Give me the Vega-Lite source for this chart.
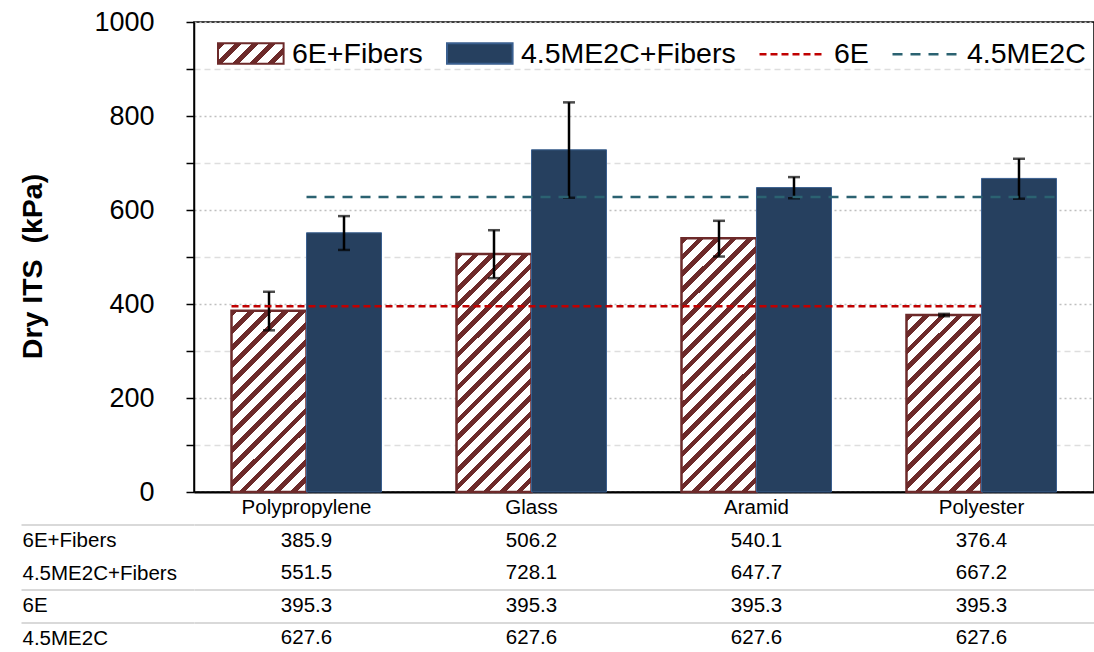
{
  "$schema": "https://vega.github.io/schema/vega-lite/v6.json",
  "background": "white",
  "padding": {"left": 18, "top": 7, "right": 3, "bottom": 0},
  "bounds": "flush",
  "spacing": 32.5,
  "config": {"font": "Liberation Sans", "view": {"stroke": null}},
  "datasets": {
    "bars": [
      {"fiber": "Polypropylene", "series": "6E+Fibers", "value": 385.9, "lo": 344, "hi": 426},
      {"fiber": "Polypropylene", "series": "4.5ME2C+Fibers", "value": 551.5, "lo": 515, "hi": 587},
      {"fiber": "Glass", "series": "6E+Fibers", "value": 506.2, "lo": 455, "hi": 557},
      {"fiber": "Glass", "series": "4.5ME2C+Fibers", "value": 728.1, "lo": 626, "hi": 829},
      {"fiber": "Aramid", "series": "6E+Fibers", "value": 540.1, "lo": 501, "hi": 577},
      {"fiber": "Aramid", "series": "4.5ME2C+Fibers", "value": 647.7, "lo": 625, "hi": 670},
      {"fiber": "Polyester", "series": "6E+Fibers", "value": 376.4, "lo": 374, "hi": 379},
      {"fiber": "Polyester", "series": "4.5ME2C+Fibers", "value": 667.2, "lo": 624, "hi": 709}
    ],
    "lines": [
      {"series": "6E", "from": "Polypropylene", "to": "Polyester", "value": 395.3},
      {"series": "4.5ME2C", "from": "Polypropylene", "to": "Polyester", "value": 627.6}
    ],
    "table": [
      {"row": "6E+Fibers", "fiber": "Polypropylene", "value": 385.9},
      {"row": "6E+Fibers", "fiber": "Glass", "value": 506.2},
      {"row": "6E+Fibers", "fiber": "Aramid", "value": 540.1},
      {"row": "6E+Fibers", "fiber": "Polyester", "value": 376.4},
      {"row": "4.5ME2C+Fibers", "fiber": "Polypropylene", "value": 551.5},
      {"row": "4.5ME2C+Fibers", "fiber": "Glass", "value": 728.1},
      {"row": "4.5ME2C+Fibers", "fiber": "Aramid", "value": 647.7},
      {"row": "4.5ME2C+Fibers", "fiber": "Polyester", "value": 667.2},
      {"row": "6E", "fiber": "Polypropylene", "value": 395.3},
      {"row": "6E", "fiber": "Glass", "value": 395.3},
      {"row": "6E", "fiber": "Aramid", "value": 395.3},
      {"row": "6E", "fiber": "Polyester", "value": 395.3},
      {"row": "4.5ME2C", "fiber": "Polypropylene", "value": 627.6},
      {"row": "4.5ME2C", "fiber": "Glass", "value": 627.6},
      {"row": "4.5ME2C", "fiber": "Aramid", "value": 627.6},
      {"row": "4.5ME2C", "fiber": "Polyester", "value": 627.6}
    ]
  },
  "vconcat": [
    {
      "width": 900,
      "height": 470,
      "view": {"stroke": "black", "strokeWidth": 1.5},
      "layer": [
        {
          "data": {"name": "bars"},
          "mark": {"type": "bar"},
          "encoding": {
            "x": {
              "field": "fiber", "type": "nominal",
              "scale": {"type": "band", "domain": ["Polypropylene", "Glass", "Aramid", "Polyester"], "paddingInner": 0.3333, "paddingOuter": 0.1667},
              "axis": {"title": null, "ticks": false, "domain": true, "domainColor": "black", "domainWidth": 2, "labelAngle": 0, "labelFontSize": 20.5, "labelColor": "black", "labelPadding": 5}
            },
            "xOffset": {
              "field": "series", "type": "nominal",
              "scale": {"domain": ["6E+Fibers", "4.5ME2C+Fibers"], "paddingInner": 0, "paddingOuter": 0}
            },
            "y": {
              "field": "value", "type": "quantitative",
              "scale": {"domain": [0, 1000], "nice": false},
              "axis": {
                "values": [0, 100, 200, 300, 400, 500, 600, 700, 800, 900, 1000],
                "format": "d",
                "labelExpr": "datum.value % 200 === 0 ? datum.label : ''",
                "labelOverlap": false,
                "title": "Dry ITS\u00a0 (kPa)", "titleFontSize": 28.5, "titleFontWeight": "bold", "titleColor": "black", "titlePadding": 46, "titleY": 244,
                "labelFontSize": 27, "labelColor": "black", "labelPadding": 32,
                "tickSize": 8, "tickColor": "black", "tickWidth": 1.5,
                "domainColor": "black", "domainWidth": 1.5,
                "grid": true, "gridWidth": 1.5,
                "gridColor": {"condition": {"test": "datum.value % 200 === 0", "value": "#bfbfbf"}, "value": "#dedede"},
                "gridDash": {"condition": {"test": "datum.value % 200 === 0", "value": [2, 3]}, "value": [6, 4]}
              }
            },
            "stroke": {
              "field": "series", "type": "nominal",
              "scale": {"domain": ["6E+Fibers", "4.5ME2C+Fibers"], "range": ["#6d2a2a", "#3a5f8f"]},
              "legend": {
                "orient": "none", "legendX": 23, "legendY": 10, "direction": "horizontal",
                "title": null, "padding": 0, "symbolSize": 1681, "symbolType": "M-1,-0.5H2.2V0.5H-1Z", "labelOffset": 32, "columnPadding": 20,
                "labelFontSize": 28.5, "labelColor": "black", "labelLimit": 0, "symbolStrokeWidth": 2
              }
            },
            "strokeWidth": {"condition": {"test": "datum.series === '6E+Fibers'", "value": 2.5}, "value": 1},
            "fill": {
              "field": "series", "type": "nominal",
              "scale": {"domain": ["6E+Fibers", "4.5ME2C+Fibers"], "range": [
                {"expr": "{gradient: 'linear', x1: 0, y1: 0, x2: 1.1957, y2: 0.3737, stops: [{offset: 0, color: '#6d2a2a'}, {offset: 0.08, color: '#6d2a2a'}, {offset: 0.08, color: '#ffffff'}, {offset: 0.2, color: '#ffffff'}, {offset: 0.2, color: '#6d2a2a'}, {offset: 0.28, color: '#6d2a2a'}, {offset: 0.28, color: '#ffffff'}, {offset: 0.4, color: '#ffffff'}, {offset: 0.4, color: '#6d2a2a'}, {offset: 0.48, color: '#6d2a2a'}, {offset: 0.48, color: '#ffffff'}, {offset: 0.6, color: '#ffffff'}, {offset: 0.6, color: '#6d2a2a'}, {offset: 0.68, color: '#6d2a2a'}, {offset: 0.68, color: '#ffffff'}, {offset: 0.8, color: '#ffffff'}, {offset: 0.8, color: '#6d2a2a'}, {offset: 0.88, color: '#6d2a2a'}, {offset: 0.88, color: '#ffffff'}, {offset: 1, color: '#ffffff'}]}"},
                "#26405f"
              ]},
              "legend": {
                "orient": "none", "legendX": 23, "legendY": 10, "direction": "horizontal",
                "title": null, "padding": 0, "symbolSize": 1681, "symbolType": "M-1,-0.5H2.2V0.5H-1Z", "labelOffset": 32, "columnPadding": 20,
                "labelFontSize": 28.5, "labelColor": "black", "labelLimit": 0, "symbolStrokeWidth": 2
              },
              "condition": [
                {"test": "datum.series === '6E+Fibers' && datum.fiber === 'Polypropylene'", "value": {"gradient": "linear", "x1": 0, "y1": 0, "x2": 0.4981, "y2": 1.2071, "stops": [
                  {"offset": 0, "color": "#6d2a2a"}, {"offset": 0.0267, "color": "#6d2a2a"}, {"offset": 0.0267, "color": "#ffffff"}, {"offset": 0.0667, "color": "#ffffff"},
                  {"offset": 0.0667, "color": "#6d2a2a"}, {"offset": 0.0933, "color": "#6d2a2a"}, {"offset": 0.0933, "color": "#ffffff"}, {"offset": 0.1333, "color": "#ffffff"},
                  {"offset": 0.1333, "color": "#6d2a2a"}, {"offset": 0.16, "color": "#6d2a2a"}, {"offset": 0.16, "color": "#ffffff"}, {"offset": 0.2, "color": "#ffffff"},
                  {"offset": 0.2, "color": "#6d2a2a"}, {"offset": 0.2267, "color": "#6d2a2a"}, {"offset": 0.2267, "color": "#ffffff"}, {"offset": 0.2667, "color": "#ffffff"},
                  {"offset": 0.2667, "color": "#6d2a2a"}, {"offset": 0.2933, "color": "#6d2a2a"}, {"offset": 0.2933, "color": "#ffffff"}, {"offset": 0.3333, "color": "#ffffff"},
                  {"offset": 0.3333, "color": "#6d2a2a"}, {"offset": 0.36, "color": "#6d2a2a"}, {"offset": 0.36, "color": "#ffffff"}, {"offset": 0.4, "color": "#ffffff"},
                  {"offset": 0.4, "color": "#6d2a2a"}, {"offset": 0.4267, "color": "#6d2a2a"}, {"offset": 0.4267, "color": "#ffffff"}, {"offset": 0.4667, "color": "#ffffff"},
                  {"offset": 0.4667, "color": "#6d2a2a"}, {"offset": 0.4933, "color": "#6d2a2a"}, {"offset": 0.4933, "color": "#ffffff"}, {"offset": 0.5333, "color": "#ffffff"},
                  {"offset": 0.5333, "color": "#6d2a2a"}, {"offset": 0.56, "color": "#6d2a2a"}, {"offset": 0.56, "color": "#ffffff"}, {"offset": 0.6, "color": "#ffffff"},
                  {"offset": 0.6, "color": "#6d2a2a"}, {"offset": 0.6267, "color": "#6d2a2a"}, {"offset": 0.6267, "color": "#ffffff"}, {"offset": 0.6667, "color": "#ffffff"},
                  {"offset": 0.6667, "color": "#6d2a2a"}, {"offset": 0.6933, "color": "#6d2a2a"}, {"offset": 0.6933, "color": "#ffffff"}, {"offset": 0.7333, "color": "#ffffff"},
                  {"offset": 0.7333, "color": "#6d2a2a"}, {"offset": 0.76, "color": "#6d2a2a"}, {"offset": 0.76, "color": "#ffffff"}, {"offset": 0.8, "color": "#ffffff"},
                  {"offset": 0.8, "color": "#6d2a2a"}, {"offset": 0.8267, "color": "#6d2a2a"}, {"offset": 0.8267, "color": "#ffffff"}, {"offset": 0.8667, "color": "#ffffff"},
                  {"offset": 0.8667, "color": "#6d2a2a"}, {"offset": 0.8933, "color": "#6d2a2a"}, {"offset": 0.8933, "color": "#ffffff"}, {"offset": 0.9333, "color": "#ffffff"},
                  {"offset": 0.9333, "color": "#6d2a2a"}, {"offset": 0.96, "color": "#6d2a2a"}, {"offset": 0.96, "color": "#ffffff"}, {"offset": 1, "color": "#ffffff"}
                ]}},
                {"test": "datum.series === '6E+Fibers' && datum.fiber === 'Glass'", "value": {"gradient": "linear", "x1": 0, "y1": 0, "x2": 0.3763, "y2": 1.1962, "stops": [
                  {"offset": 0, "color": "#6d2a2a"}, {"offset": 0.0211, "color": "#6d2a2a"}, {"offset": 0.0211, "color": "#ffffff"}, {"offset": 0.0526, "color": "#ffffff"},
                  {"offset": 0.0526, "color": "#6d2a2a"}, {"offset": 0.0737, "color": "#6d2a2a"}, {"offset": 0.0737, "color": "#ffffff"}, {"offset": 0.1053, "color": "#ffffff"},
                  {"offset": 0.1053, "color": "#6d2a2a"}, {"offset": 0.1264, "color": "#6d2a2a"}, {"offset": 0.1264, "color": "#ffffff"}, {"offset": 0.1579, "color": "#ffffff"},
                  {"offset": 0.1579, "color": "#6d2a2a"}, {"offset": 0.179, "color": "#6d2a2a"}, {"offset": 0.179, "color": "#ffffff"}, {"offset": 0.2105, "color": "#ffffff"},
                  {"offset": 0.2105, "color": "#6d2a2a"}, {"offset": 0.2316, "color": "#6d2a2a"}, {"offset": 0.2316, "color": "#ffffff"}, {"offset": 0.2632, "color": "#ffffff"},
                  {"offset": 0.2632, "color": "#6d2a2a"}, {"offset": 0.2843, "color": "#6d2a2a"}, {"offset": 0.2843, "color": "#ffffff"}, {"offset": 0.3158, "color": "#ffffff"},
                  {"offset": 0.3158, "color": "#6d2a2a"}, {"offset": 0.3369, "color": "#6d2a2a"}, {"offset": 0.3369, "color": "#ffffff"}, {"offset": 0.3684, "color": "#ffffff"},
                  {"offset": 0.3684, "color": "#6d2a2a"}, {"offset": 0.3895, "color": "#6d2a2a"}, {"offset": 0.3895, "color": "#ffffff"}, {"offset": 0.4211, "color": "#ffffff"},
                  {"offset": 0.4211, "color": "#6d2a2a"}, {"offset": 0.4422, "color": "#6d2a2a"}, {"offset": 0.4422, "color": "#ffffff"}, {"offset": 0.4737, "color": "#ffffff"},
                  {"offset": 0.4737, "color": "#6d2a2a"}, {"offset": 0.4948, "color": "#6d2a2a"}, {"offset": 0.4948, "color": "#ffffff"}, {"offset": 0.5263, "color": "#ffffff"},
                  {"offset": 0.5263, "color": "#6d2a2a"}, {"offset": 0.5474, "color": "#6d2a2a"}, {"offset": 0.5474, "color": "#ffffff"}, {"offset": 0.5789, "color": "#ffffff"},
                  {"offset": 0.5789, "color": "#6d2a2a"}, {"offset": 0.6, "color": "#6d2a2a"}, {"offset": 0.6, "color": "#ffffff"}, {"offset": 0.6316, "color": "#ffffff"},
                  {"offset": 0.6316, "color": "#6d2a2a"}, {"offset": 0.6527, "color": "#6d2a2a"}, {"offset": 0.6527, "color": "#ffffff"}, {"offset": 0.6842, "color": "#ffffff"},
                  {"offset": 0.6842, "color": "#6d2a2a"}, {"offset": 0.7053, "color": "#6d2a2a"}, {"offset": 0.7053, "color": "#ffffff"}, {"offset": 0.7368, "color": "#ffffff"},
                  {"offset": 0.7368, "color": "#6d2a2a"}, {"offset": 0.7579, "color": "#6d2a2a"}, {"offset": 0.7579, "color": "#ffffff"}, {"offset": 0.7895, "color": "#ffffff"},
                  {"offset": 0.7895, "color": "#6d2a2a"}, {"offset": 0.8106, "color": "#6d2a2a"}, {"offset": 0.8106, "color": "#ffffff"}, {"offset": 0.8421, "color": "#ffffff"},
                  {"offset": 0.8421, "color": "#6d2a2a"}, {"offset": 0.8632, "color": "#6d2a2a"}, {"offset": 0.8632, "color": "#ffffff"}, {"offset": 0.8947, "color": "#ffffff"},
                  {"offset": 0.8947, "color": "#6d2a2a"}, {"offset": 0.9158, "color": "#6d2a2a"}, {"offset": 0.9158, "color": "#ffffff"}, {"offset": 0.9474, "color": "#ffffff"},
                  {"offset": 0.9474, "color": "#6d2a2a"}, {"offset": 0.9685, "color": "#6d2a2a"}, {"offset": 0.9685, "color": "#ffffff"}, {"offset": 1, "color": "#ffffff"}
                ]}},
                {"test": "datum.series === '6E+Fibers' && datum.fiber === 'Aramid'", "value": {"gradient": "linear", "x1": 0, "y1": 0, "x2": 0.3512, "y2": 1.1913, "stops": [
                  {"offset": 0, "color": "#6d2a2a"}, {"offset": 0.02, "color": "#6d2a2a"}, {"offset": 0.02, "color": "#ffffff"}, {"offset": 0.05, "color": "#ffffff"},
                  {"offset": 0.05, "color": "#6d2a2a"}, {"offset": 0.07, "color": "#6d2a2a"}, {"offset": 0.07, "color": "#ffffff"}, {"offset": 0.1, "color": "#ffffff"},
                  {"offset": 0.1, "color": "#6d2a2a"}, {"offset": 0.12, "color": "#6d2a2a"}, {"offset": 0.12, "color": "#ffffff"}, {"offset": 0.15, "color": "#ffffff"},
                  {"offset": 0.15, "color": "#6d2a2a"}, {"offset": 0.17, "color": "#6d2a2a"}, {"offset": 0.17, "color": "#ffffff"}, {"offset": 0.2, "color": "#ffffff"},
                  {"offset": 0.2, "color": "#6d2a2a"}, {"offset": 0.22, "color": "#6d2a2a"}, {"offset": 0.22, "color": "#ffffff"}, {"offset": 0.25, "color": "#ffffff"},
                  {"offset": 0.25, "color": "#6d2a2a"}, {"offset": 0.27, "color": "#6d2a2a"}, {"offset": 0.27, "color": "#ffffff"}, {"offset": 0.3, "color": "#ffffff"},
                  {"offset": 0.3, "color": "#6d2a2a"}, {"offset": 0.32, "color": "#6d2a2a"}, {"offset": 0.32, "color": "#ffffff"}, {"offset": 0.35, "color": "#ffffff"},
                  {"offset": 0.35, "color": "#6d2a2a"}, {"offset": 0.37, "color": "#6d2a2a"}, {"offset": 0.37, "color": "#ffffff"}, {"offset": 0.4, "color": "#ffffff"},
                  {"offset": 0.4, "color": "#6d2a2a"}, {"offset": 0.42, "color": "#6d2a2a"}, {"offset": 0.42, "color": "#ffffff"}, {"offset": 0.45, "color": "#ffffff"},
                  {"offset": 0.45, "color": "#6d2a2a"}, {"offset": 0.47, "color": "#6d2a2a"}, {"offset": 0.47, "color": "#ffffff"}, {"offset": 0.5, "color": "#ffffff"},
                  {"offset": 0.5, "color": "#6d2a2a"}, {"offset": 0.52, "color": "#6d2a2a"}, {"offset": 0.52, "color": "#ffffff"}, {"offset": 0.55, "color": "#ffffff"},
                  {"offset": 0.55, "color": "#6d2a2a"}, {"offset": 0.57, "color": "#6d2a2a"}, {"offset": 0.57, "color": "#ffffff"}, {"offset": 0.6, "color": "#ffffff"},
                  {"offset": 0.6, "color": "#6d2a2a"}, {"offset": 0.62, "color": "#6d2a2a"}, {"offset": 0.62, "color": "#ffffff"}, {"offset": 0.65, "color": "#ffffff"},
                  {"offset": 0.65, "color": "#6d2a2a"}, {"offset": 0.67, "color": "#6d2a2a"}, {"offset": 0.67, "color": "#ffffff"}, {"offset": 0.7, "color": "#ffffff"},
                  {"offset": 0.7, "color": "#6d2a2a"}, {"offset": 0.72, "color": "#6d2a2a"}, {"offset": 0.72, "color": "#ffffff"}, {"offset": 0.75, "color": "#ffffff"},
                  {"offset": 0.75, "color": "#6d2a2a"}, {"offset": 0.77, "color": "#6d2a2a"}, {"offset": 0.77, "color": "#ffffff"}, {"offset": 0.8, "color": "#ffffff"},
                  {"offset": 0.8, "color": "#6d2a2a"}, {"offset": 0.82, "color": "#6d2a2a"}, {"offset": 0.82, "color": "#ffffff"}, {"offset": 0.85, "color": "#ffffff"},
                  {"offset": 0.85, "color": "#6d2a2a"}, {"offset": 0.87, "color": "#6d2a2a"}, {"offset": 0.87, "color": "#ffffff"}, {"offset": 0.9, "color": "#ffffff"},
                  {"offset": 0.9, "color": "#6d2a2a"}, {"offset": 0.92, "color": "#6d2a2a"}, {"offset": 0.92, "color": "#ffffff"}, {"offset": 0.95, "color": "#ffffff"},
                  {"offset": 0.95, "color": "#6d2a2a"}, {"offset": 0.97, "color": "#6d2a2a"}, {"offset": 0.97, "color": "#ffffff"}, {"offset": 1, "color": "#ffffff"}
                ]}},
                {"test": "datum.series === '6E+Fibers' && datum.fiber === 'Polyester'", "value": {"gradient": "linear", "x1": 0, "y1": 0, "x2": 0.5106, "y2": 1.207, "stops": [
                  {"offset": 0, "color": "#6d2a2a"}, {"offset": 0.0267, "color": "#6d2a2a"}, {"offset": 0.0267, "color": "#ffffff"}, {"offset": 0.0667, "color": "#ffffff"},
                  {"offset": 0.0667, "color": "#6d2a2a"}, {"offset": 0.0933, "color": "#6d2a2a"}, {"offset": 0.0933, "color": "#ffffff"}, {"offset": 0.1333, "color": "#ffffff"},
                  {"offset": 0.1333, "color": "#6d2a2a"}, {"offset": 0.16, "color": "#6d2a2a"}, {"offset": 0.16, "color": "#ffffff"}, {"offset": 0.2, "color": "#ffffff"},
                  {"offset": 0.2, "color": "#6d2a2a"}, {"offset": 0.2267, "color": "#6d2a2a"}, {"offset": 0.2267, "color": "#ffffff"}, {"offset": 0.2667, "color": "#ffffff"},
                  {"offset": 0.2667, "color": "#6d2a2a"}, {"offset": 0.2933, "color": "#6d2a2a"}, {"offset": 0.2933, "color": "#ffffff"}, {"offset": 0.3333, "color": "#ffffff"},
                  {"offset": 0.3333, "color": "#6d2a2a"}, {"offset": 0.36, "color": "#6d2a2a"}, {"offset": 0.36, "color": "#ffffff"}, {"offset": 0.4, "color": "#ffffff"},
                  {"offset": 0.4, "color": "#6d2a2a"}, {"offset": 0.4267, "color": "#6d2a2a"}, {"offset": 0.4267, "color": "#ffffff"}, {"offset": 0.4667, "color": "#ffffff"},
                  {"offset": 0.4667, "color": "#6d2a2a"}, {"offset": 0.4933, "color": "#6d2a2a"}, {"offset": 0.4933, "color": "#ffffff"}, {"offset": 0.5333, "color": "#ffffff"},
                  {"offset": 0.5333, "color": "#6d2a2a"}, {"offset": 0.56, "color": "#6d2a2a"}, {"offset": 0.56, "color": "#ffffff"}, {"offset": 0.6, "color": "#ffffff"},
                  {"offset": 0.6, "color": "#6d2a2a"}, {"offset": 0.6267, "color": "#6d2a2a"}, {"offset": 0.6267, "color": "#ffffff"}, {"offset": 0.6667, "color": "#ffffff"},
                  {"offset": 0.6667, "color": "#6d2a2a"}, {"offset": 0.6933, "color": "#6d2a2a"}, {"offset": 0.6933, "color": "#ffffff"}, {"offset": 0.7333, "color": "#ffffff"},
                  {"offset": 0.7333, "color": "#6d2a2a"}, {"offset": 0.76, "color": "#6d2a2a"}, {"offset": 0.76, "color": "#ffffff"}, {"offset": 0.8, "color": "#ffffff"},
                  {"offset": 0.8, "color": "#6d2a2a"}, {"offset": 0.8267, "color": "#6d2a2a"}, {"offset": 0.8267, "color": "#ffffff"}, {"offset": 0.8667, "color": "#ffffff"},
                  {"offset": 0.8667, "color": "#6d2a2a"}, {"offset": 0.8933, "color": "#6d2a2a"}, {"offset": 0.8933, "color": "#ffffff"}, {"offset": 0.9333, "color": "#ffffff"},
                  {"offset": 0.9333, "color": "#6d2a2a"}, {"offset": 0.96, "color": "#6d2a2a"}, {"offset": 0.96, "color": "#ffffff"}, {"offset": 1, "color": "#ffffff"}
                ]}}
              ]
            }
          }
        },
        {
          "data": {"name": "bars"},
          "mark": {"type": "rule", "color": "black", "strokeWidth": 2.5},
          "encoding": {
            "x": {"field": "fiber", "type": "nominal"},
            "xOffset": {"field": "series", "type": "nominal"},
            "y": {"field": "lo", "type": "quantitative"},
            "y2": {"field": "hi"}
          }
        },
        {
          "data": {"name": "bars"},
          "mark": {"type": "tick", "color": "black", "thickness": 2.5, "size": 12},
          "encoding": {
            "x": {"field": "fiber", "type": "nominal"},
            "xOffset": {"field": "series", "type": "nominal"},
            "y": {"field": "lo", "type": "quantitative"}
          }
        },
        {
          "data": {"name": "bars"},
          "mark": {"type": "tick", "color": "black", "thickness": 2.5, "size": 12},
          "encoding": {
            "x": {"field": "fiber", "type": "nominal"},
            "xOffset": {"field": "series", "type": "nominal"},
            "y": {"field": "hi", "type": "quantitative"}
          }
        },
        {
          "data": {"name": "lines"},
          "transform": [{"filter": "datum.series === '6E'"}],
          "mark": {"type": "rule", "strokeWidth": 2.5},
          "encoding": {
            "x": {"field": "from", "type": "nominal", "bandPosition": 0},
            "x2": {"field": "to", "bandPosition": 0.5},
            "y": {"field": "value", "type": "quantitative"},
            "color": {
              "field": "series", "type": "nominal",
              "scale": {"domain": ["6E", "4.5ME2C"], "range": ["#c00000", "#2b6271"]},
              "legend": {
                "orient": "none", "legendX": 564, "legendY": 10, "direction": "horizontal",
                "title": null, "padding": 0, "symbolSize": 1681, "symbolType": "M-1,0H2.2", "labelOffset": 32, "columnPadding": 18,
                "labelFontSize": 28.5, "labelColor": "black", "labelLimit": 0, "symbolStrokeWidth": 2.5
              }
            },
            "strokeDash": {
              "field": "series", "type": "nominal",
              "scale": {"domain": ["6E", "4.5ME2C"], "range": [[7, 4], [10, 8]]},
              "legend": {
                "orient": "none", "legendX": 564, "legendY": 10, "direction": "horizontal",
                "title": null, "padding": 0, "symbolSize": 1681, "symbolType": "M-1,0H2.2", "labelOffset": 32, "columnPadding": 18,
                "labelFontSize": 28.5, "labelColor": "black", "labelLimit": 0, "symbolStrokeWidth": 2.5
              }
            }
          }
        },
        {
          "data": {"name": "lines"},
          "transform": [{"filter": "datum.series === '4.5ME2C'"}],
          "mark": {"type": "rule", "strokeWidth": 2.5},
          "encoding": {
            "x": {"field": "from", "type": "nominal", "bandPosition": 0.5},
            "x2": {"field": "to", "bandPosition": 1},
            "y": {"field": "value", "type": "quantitative"},
            "color": {
              "field": "series", "type": "nominal",
              "scale": {"domain": ["6E", "4.5ME2C"], "range": ["#c00000", "#2b6271"]},
              "legend": {
                "orient": "none", "legendX": 564, "legendY": 10, "direction": "horizontal",
                "title": null, "padding": 0, "symbolSize": 1681, "symbolType": "M-1,0H2.2", "labelOffset": 32, "columnPadding": 18,
                "labelFontSize": 28.5, "labelColor": "black", "labelLimit": 0, "symbolStrokeWidth": 2.5
              }
            },
            "strokeDash": {
              "field": "series", "type": "nominal",
              "scale": {"domain": ["6E", "4.5ME2C"], "range": [[7, 4], [10, 8]]},
              "legend": {
                "orient": "none", "legendX": 564, "legendY": 10, "direction": "horizontal",
                "title": null, "padding": 0, "symbolSize": 1681, "symbolType": "M-1,0H2.2", "labelOffset": 32, "columnPadding": 18,
                "labelFontSize": 28.5, "labelColor": "black", "labelLimit": 0, "symbolStrokeWidth": 2.5
              }
            }
          }
        }
      ]
    },
    {
      "width": 900,
      "height": 130,
      "data": {"name": "table"},
      "mark": {"type": "text", "fontSize": 20.5, "color": "black"},
      "encoding": {
        "x": {
          "field": "fiber", "type": "nominal",
          "scale": {"type": "band", "domain": ["Polypropylene", "Glass", "Aramid", "Polyester"], "paddingInner": 0.3333, "paddingOuter": 0.1667},
          "axis": null
        },
        "y": {
          "field": "row", "type": "nominal",
          "scale": {"type": "band", "domain": ["6E+Fibers", "4.5ME2C+Fibers", "6E", "4.5ME2C"], "paddingInner": 0, "paddingOuter": 0},
          "axis": {
            "title": null, "domain": false, "labelAlign": "left", "labelPadding": -1, "labelFontSize": 20.5, "labelColor": "black",
            "tickBand": "extent", "tickSize": 173, "tickWidth": 2,
            "tickColor": {"condition": {"test": "datum.value === '6E+Fibers'", "value": "transparent"}, "value": "#d9d9d9"},
            "grid": true, "gridWidth": 2,
            "gridColor": {"condition": {"test": "datum.value === '6E+Fibers'", "value": "transparent"}, "value": "#d9d9d9"}
          }
        },
        "text": {"field": "value", "type": "quantitative", "format": ".1f"}
      }
    }
  ]
}
